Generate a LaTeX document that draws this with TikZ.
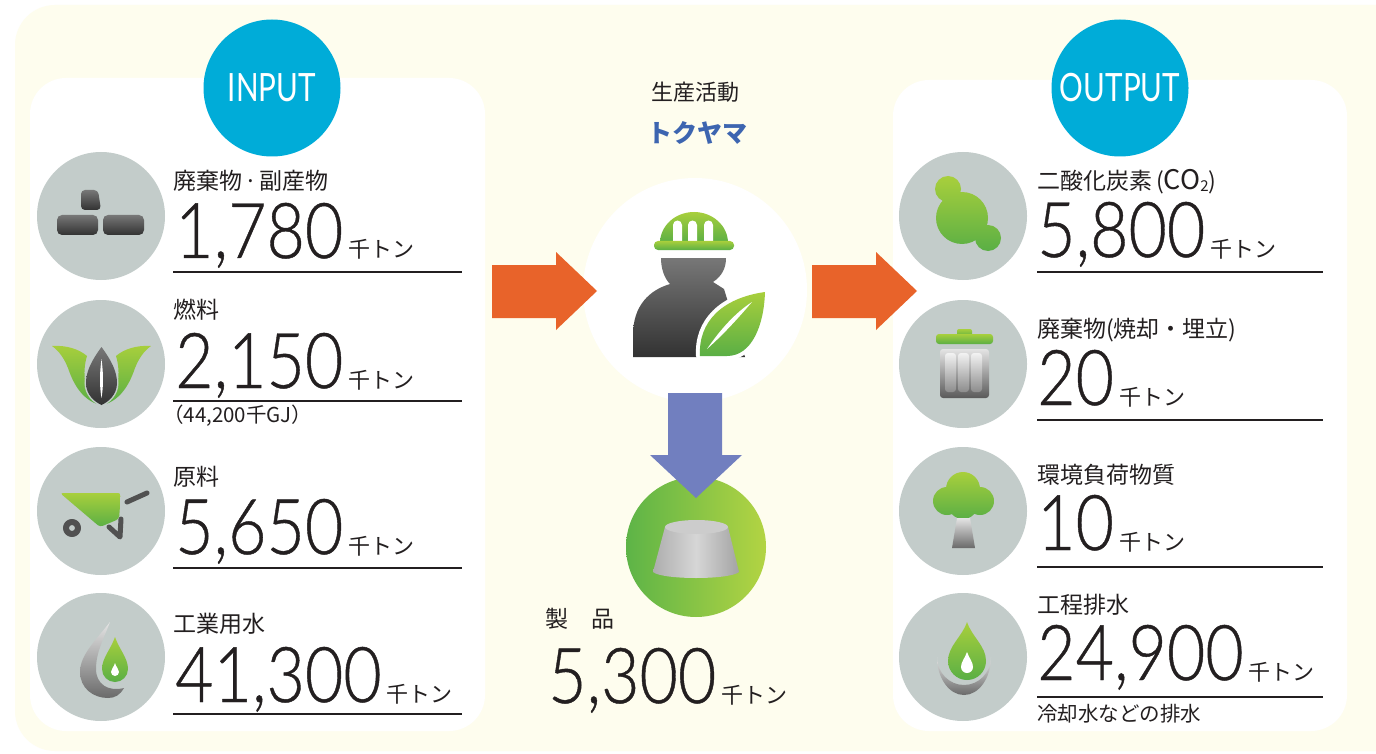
\documentclass[tikz,border=0pt]{standalone}
\usepackage{graphicx}
\usepackage{fontspec}
\setmainfont{Noto Sans CJK JP}
\newfontfamily\jpfont{Noto Sans CJK JP}
\newfontfamily\numfont{Lato Light}[FakeBold=0.6]
\newfontfamily\capfont{Lato}

\definecolor{cream}{HTML}{FEFDEE}
\definecolor{discgrey}{HTML}{C3CCCA}
\definecolor{cyanc}{HTML}{00ACD8}
\definecolor{orangec}{HTML}{E8632A}
\definecolor{bluec}{HTML}{717FBF}
\definecolor{gtop}{HTML}{A8CF3C}
\definecolor{gbot}{HTML}{5AAF45}
\definecolor{dgtop}{HTML}{777777}
\definecolor{dgbot}{HTML}{323232}
\definecolor{lgtop}{HTML}{E4E4E4}
\definecolor{lgbot}{HTML}{6A6A6A}
\definecolor{ink}{HTML}{231F20}
\definecolor{brand}{HTML}{3D65B0}
\definecolor{prodl}{HTML}{5DB447}
\definecolor{prodr}{HTML}{B3D443}

\pgfdeclareradialshading{orb}{\pgfpoint{0bp}{0bp}}{color(0bp)=(white); color(32bp)=(white); color(45bp)=(black!8); color(50bp)=(black!19)}

\newcommand\bignum[1]{\scalebox{0.86}[1]{\numfont\fontsize{77}{77}\selectfont #1}}
\newcommand\tonunit{{\jpfont\fontsize{22}{22}\selectfont 千トン}}

\begin{document}
\begin{tikzpicture}[x=1pt,y=-1pt,
  greenfill/.style={top color=gtop, bottom color=gbot},
  darkfill/.style={top color=dgtop, bottom color=dgbot},
  metalfill/.style={top color=lgtop, bottom color=lgbot},
  disc/.style={circle, fill=discgrey, minimum size=128pt, inner sep=0pt},
  badge/.style={circle, fill=cyanc, minimum size=137pt, inner sep=0pt, text=white, font=\capfont\fontsize{39}{39}\selectfont},
  label/.style={anchor=west, inner sep=0pt, text=ink, font=\jpfont\fontsize{23}{23}\selectfont},
  note/.style={anchor=west, inner sep=0pt, text=ink, font=\jpfont\fontsize{20.5}{20.5}\selectfont},
  value/.style={anchor=base west, inner sep=0pt, text=ink},
  rule/.style={line width=1.2pt, ink},
  stroke/.style={draw=dgbot!85, line width=5pt, line cap=round, line join=round}]

\useasboundingbox (0,0) rectangle (1376,754);
\fill[white] (0,0) rectangle (1376,754);
\fill[cream, rounded corners=40] (15,5) rectangle (1420,751);

% panels
\fill[white, rounded corners=36] (30,78) rectangle (485,731);
\fill[white, rounded corners=36] (893,80) rectangle (1347,731);

% badges
\node[badge] (inp) at (272,88) {\scalebox{0.76}[1]{INPUT}};
\node[badge] (outp) at (1120,88) {\scalebox{0.76}[1]{OUTPUT}};

% icon discs
\node[disc] (d1) at (101,216) {};
\node[disc] (d2) at (101,364) {};
\node[disc] (d3) at (101,511) {};
\node[disc] (d4) at (101,657) {};
\node[disc] (e1) at (963,216) {};
\node[disc] (e2) at (963,364) {};
\node[disc] (e3) at (963,511) {};
\node[disc] (e4) at (963,657) {};

% bricks
\shade[darkfill, rounded corners=4] (81,190) -- (98,190) -- (101,210) -- (81,210) -- cycle;
\shade[darkfill, rounded corners=5] (57,215) rectangle (98,235);
\shade[darkfill, rounded corners=5] (103,215) rectangle (144,235);

% fuel leaves
\shade[greenfill] (52,346) .. controls (66,345) and (79,349) .. (87,356)
  .. controls (82,372) and (84,394) .. (97,404) .. controls (80,398) and (72,380) .. (68,368)
  .. controls (64,358) and (59,351) .. (52,346) -- cycle;
\shade[greenfill] (151,346) .. controls (137,345) and (124,349) .. (116,356)
  .. controls (121,372) and (119,394) .. (106,404) .. controls (123,398) and (131,380) .. (135,368)
  .. controls (139,358) and (144,351) .. (151,346) -- cycle;
\shade[darkfill, preaction={draw=discgrey, line width=3pt}] (101.5,347) .. controls (92,360) and (86,371) .. (86,383)
  .. controls (86,395) and (95,402) .. (101.5,405) .. controls (108,402) and (117,395) .. (117,383)
  .. controls (117,371) and (111,360) .. (101.5,347) -- cycle;
\fill[white] (101.5,359) .. controls (99.5,374) and (99.5,386) .. (101.5,398)
  .. controls (103.5,386) and (103.5,374) .. (101.5,359) -- cycle;

% wheelbarrow
\shade[greenfill, rounded corners=3] (60,493) -- (121,493) -- (119,519) -- (100,527) -- cycle;
\draw[stroke, line width=6pt] (72,528) circle (6);
\draw[stroke] (127,502) -- (147,493);
\draw[stroke] (109,527) -- (120,537) -- (121,519);

% water drop (input)
\shade[metalfill] (110,622) .. controls (96,640) and (80,655) .. (80,672)
  .. controls (80,688) and (93,698) .. (108,698) .. controls (115,698) and (120,695) .. (124,688)
  .. controls (108,692) and (96,684) .. (96,669) .. controls (96,652) and (104,638) .. (110,622) -- cycle;
\shade[greenfill, preaction={draw=discgrey, line width=3pt}] (115,637) .. controls (111,649) and (102,658) .. (102,669)
  arc(180:0:13) .. controls (128,658) and (119,649) .. (115,637) -- cycle;
\fill[white] (115,663) .. controls (114,667) and (111,669) .. (111,672) arc(180:0:4) .. controls (119,669) and (116,667) .. (115,663) -- cycle;

% CO2 molecule
\shade[greenfill] (962,218) circle (26) (948,189) circle (13) (988,238) circle (13);

% bin
\shade[greenfill, rounded corners=2] (957,329) rectangle (972,337);
\shade[greenfill, rounded corners=3] (936,334) rectangle (993,344);
\shade[top color=lgtop, bottom color=black!65, rounded corners=3] (940,349) rectangle (989,398);
\foreach \sx in {945,958,971}
  \shade[top color=white!95!black, bottom color=black!45, rounded corners=3] (\sx,353) rectangle (\sx+11,392);

% tree
\shade[greenfill] (963,489) circle (17) (947,501) circle (14) (980,501) circle (14) (963,504) circle (15);
\shade[metalfill] (957,518) -- (970,518) -- (975,548) -- (952,548) -- cycle;

% water drop (output)
\shade[metalfill] (937,657) arc(180:0:27 and 38) arc(0:180:27 and 28) -- cycle;
\shade[greenfill, preaction={draw=discgrey, line width=3pt}] (967,622) .. controls (962,637) and (948,646) .. (948,661)
  arc(180:0:19) .. controls (986,646) and (972,637) .. (967,622) -- cycle;
\fill[white] (967,652) .. controls (965,658) and (961,662) .. (961,667) arc(180:0:6) .. controls (973,662) and (969,658) .. (967,652) -- cycle;

% ---- input figures
\node[label] (l1) at (173,181) {廃棄物\hspace{2pt}·\hspace{2pt}副産物};
\node[value] (v1) at (175,258) {\bignum{1,780}\hspace{5pt}\tonunit};
\draw[rule] (173,272) -- (462,272);

\node[label] (l2) at (173,310) {燃料};
\node[value] (v2) at (175,388) {\bignum{2,150}\hspace{5pt}\tonunit};
\draw[rule] (173,401) -- (462,401);
\node[note] (n2) at (163,416) {（44,200千GJ）};

\node[label] (l3) at (173,477) {原料};
\node[value] (v3) at (175,554) {\bignum{5,650}\hspace{5pt}\tonunit};
\draw[rule] (173,568) -- (462,568);

\node[label] (l4) at (173,624) {工業用水};
\node[value] (v4) at (175,702) {\bignum{41,300}\hspace{5pt}\tonunit};
\draw[rule] (173,714) -- (462,714);

% ---- output figures
\node[label] (r1) at (1037,182) {二酸化炭素\hspace{4pt}({\fontsize{27}{27}\selectfont CO}\raisebox{-2pt}{\fontsize{15}{15}\selectfont 2})};
\node[value] (w1) at (1037,257) {\bignum{5,800}\hspace{5pt}\tonunit};
\draw[rule] (1037,272) -- (1323,272);

\node[label] (r2) at (1037,330) {廃棄物(焼却・埋立)};
\node[value] (w2) at (1037,405) {\bignum{20}\hspace{5pt}\tonunit};
\draw[rule] (1037,420) -- (1323,420);

\node[label] (r3) at (1037,475) {環境負荷物質};
\node[value] (w3) at (1037,550) {\bignum{10}\hspace{5pt}\tonunit};
\draw[rule] (1037,567) -- (1323,567);

\node[label] (r4) at (1037,605) {工程排水};
\node[value] (w4) at (1037,680) {\bignum{24,900}\hspace{5pt}\tonunit};
\draw[rule] (1037,697) -- (1323,697);
\node[note] (n4) at (1037,714) {冷却水などの排水};

% ---- centre: production
\node[inner sep=0pt, text=ink, font=\jpfont\fontsize{22}{22}\selectfont] (act) at (695,92) {生産活動};
\node[inner sep=0pt, text=brand, font=\jpfont\bfseries\fontsize{25}{25}\selectfont] (brandname) at (697,133) {トクヤマ};

\shade[shading=orb] (695,290) circle (112);
\node[circle, minimum size=224pt, inner sep=0pt] (plant) at (695,290) {};

% worker
\shade[darkfill] (661,258) -- (726,258) .. controls (726,268) and (722,276) .. (713,282) -- (724,289) -- (745,357)
  -- (633,357) -- (633,335) .. controls (633,305) and (650,290) .. (670,284)
  .. controls (664,278) and (661,268) .. (661,258) -- cycle;
\shade[greenfill] (660,243) arc(180:360:34 and 31) -- cycle;
\foreach \wx in {673,688,704}
  \fill[white] (\wx,242) -- (\wx,225) arc(180:360:4.5) -- (\wx+9,242) -- cycle;
\shade[greenfill, rounded corners=4] (654,241) rectangle (734,250);
\shade[greenfill, preaction={draw=white, line width=8pt, line join=round}]
  (700,356) .. controls (698,322) and (722,298) .. (765,292) .. controls (764,325) and (752,356) .. (727,356) -- cycle;
\fill[white] (707,349) .. controls (720,330) and (735,313) .. (752,302) .. controls (740,316) and (725,333) .. (707,349) -- cycle;

% product
\shade[left color=prodl, right color=prodr] (696,547) circle (70);
\node[circle, minimum size=140pt, inner sep=0pt] (product) at (696,547) {};
\shade[left color=black!32, right color=black!36, middle color=black!16]
  (665,527) -- (653,572) .. controls (662,580) and (730,580) .. (739,572) -- (728,527) -- cycle;
\fill[black!20] (696.5,527) ellipse (31.5 and 7);

\node[label] (prodlabel) at (545,619) {製　品};
\node[value] (prodval) at (548,703) {\bignum{5,300}\hspace{5pt}\tonunit};

% flow arrows
\fill[orangec] (492,265) -- (556,265) -- (556,252) -- (597,291) -- (556,330) -- (556,318) -- (492,318) -- cycle;
\fill[orangec] (812,265) -- (876,265) -- (876,252) -- (917,291) -- (876,330) -- (876,318) -- (812,318) -- cycle;
\fill[bluec] (668,393) -- (722,393) -- (722,455) -- (742,455) -- (696,498) -- (650,455) -- (668,455) -- cycle;

\end{tikzpicture}
\end{document}
